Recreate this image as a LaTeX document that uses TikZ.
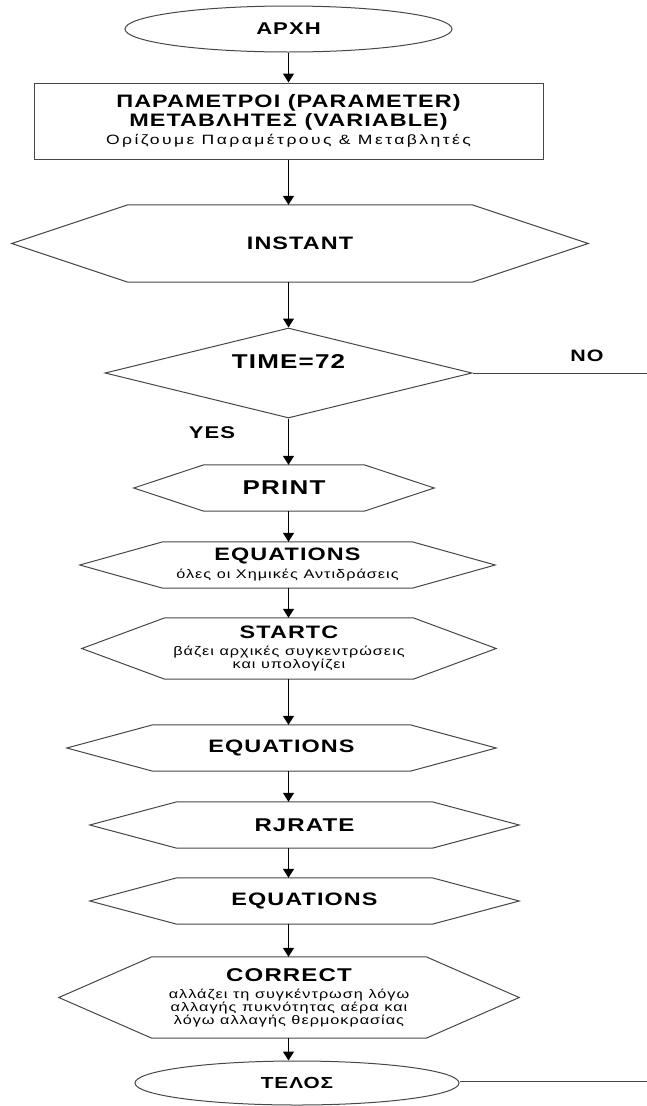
\documentclass[tikz,border=0pt]{standalone}
\usepackage{fontspec}
\setmainfont{Liberation Sans}[FakeStretch=1.3, BoldFeatures={LetterSpace=6}]
\usetikzlibrary{shapes.geometric, arrows.meta, calc}
\definecolor{linegray}{RGB}{70, 70, 70}
\newcommand{\smalltxt}{\fontsize{12.5}{13}\selectfont\mdseries\addfontfeatures{LetterSpace=8}}

\begin{document}
\begin{tikzpicture}[x=1pt, y=-1pt,
    term/.style={ellipse, draw=linegray, line width=1pt, inner sep=0pt,
                 font=\fontsize{17}{20}\selectfont\bfseries},
    parbox/.style={rectangle, draw=linegray, line width=1pt, inner sep=0pt,
                   align=center, font=\fontsize{18}{18.5}\selectfont\bfseries},
    hexbox/.style={rectangle, inner sep=0pt, minimum height=46pt,
                   align=center, font=\fontsize{18}{13}\selectfont\bfseries},
    decision/.style={diamond, draw=linegray, line width=1pt, inner sep=0pt,
                     aspect=4.08, minimum width=367pt, minimum height=90pt},
    outline/.style={draw=linegray, line width=1pt},
    arr/.style={-{Triangle[width=11pt,length=9pt]}, line width=1.3pt, black},
    plain/.style={line width=1pt, linegray},
    lbl/.style={font=\fontsize{16.5}{20}\selectfont\bfseries}
]
\useasboundingbox (0,0) rectangle (647,1106);
\coordinate (axis) at (288.5,0);

% start and parameters
\node[term, minimum width=327pt, minimum height=46pt] (start) at (288.5,29) {ΑΡΧΗ};
\node[parbox, minimum width=509pt, minimum height=76pt] (par) at (288.5,121)
    {ΠΑΡΑΜΕΤΡΟΙ (PARAMETER)\\ΜΕΤΑΒΛΗΤΕΣ (VARIABLE)\\
     \fontsize{13.5}{16}\selectfont\mdseries\addfontfeatures{LetterSpace=18}Ορίζουμε Παραμέτρους \& Μεταβλητές};

% loop test
\node[hexbox, minimum width=344pt, minimum height=77pt] (inst) at (300,243.5) {INSTANT};
\node[decision, label={[font=\fontsize{20}{22}\selectfont\bfseries, yshift=11pt]center:TIME=72}] (dec) at (288.5,373) {};
\node[lbl] (nolbl) at (587,356) {NO};
\node[lbl, font=\fontsize{17}{20}\selectfont\bfseries] (yeslbl) at (212,433) {YES};
\coordinate (noend) at (647,373);

% main steps
\node[hexbox, minimum width=160pt, font=\fontsize{20}{22}\selectfont\bfseries] (prt) at (284,488) {PRINT};
\node[hexbox, minimum width=249pt] (eq1) at (287.5,565)
    {EQUATIONS\\[5pt]\smalltxt όλες οι Χημικές Αντιδράσεις};
\node[hexbox, minimum width=248pt, minimum height=61pt] (stc) at (289,648.5)
    {STARTC\\[4pt]\smalltxt βάζει αρχικές συγκεντρώσεις\\\smalltxt και υπολογίζει};
\node[hexbox, minimum width=257pt] (eq2) at (281.5,748) {EQUATIONS};
\node[hexbox, minimum width=255pt, font=\fontsize{18.5}{13}\selectfont\bfseries] (rj) at (304.5,825) {RJRATE};
\node[hexbox, minimum width=255pt] (eq3) at (304.5,901) {EQUATIONS};
\node[hexbox, minimum width=274pt, minimum height=81pt, font=\fontsize{18.5}{13}\selectfont\bfseries] (cor) at (289,997.5)
    {CORRECT\\[4pt]\smalltxt αλλάζει τη συγκέντρωση λόγω\\\smalltxt αλλαγής πυκνότητας αέρα και\\\smalltxt λόγω αλλαγής θερμοκρασίας};
\node[term, minimum width=324pt, minimum height=44pt, font=\fontsize{16}{20}\selectfont\bfseries] (end) at (297,1083) {ΤΕΛΟΣ};
\coordinate (endend) at (647,1081);

% hexagon outlines
\foreach \n/\p in {inst/116, prt/70, eq1/83, stc/83, eq2/86, rj/87, eq3/87, cor/93}
  \draw[outline] (\n.north west) -- (\n.north east) -- ($(\n.east)+(\p,0)$)
    -- (\n.south east) -- (\n.south west) -- ($(\n.west)-(\p,0)$) -- cycle;

% connectors
\foreach \a/\b in {start/par, par/inst, inst/dec, dec/prt, prt/eq1, eq1/stc,
                   stc/eq2, eq2/rj, rj/eq3, eq3/cor, cor/end}
  \draw[arr] (\a.south -| axis) -- (\b.north -| axis);
\draw[plain] (dec.east) -- (noend);
\draw[plain] (end.east |- endend) -- (endend);

\end{tikzpicture}
\end{document}
